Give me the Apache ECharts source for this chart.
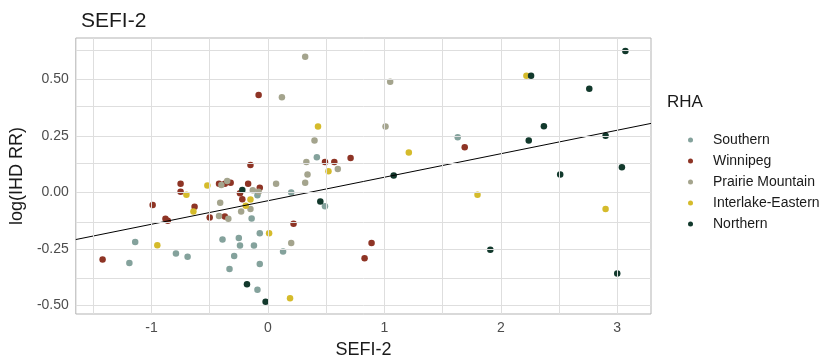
<!DOCTYPE html>
<html>
<head>
<meta charset="utf-8">
<script src="https://cdn.jsdelivr.net/npm/echarts@6/dist/echarts.min.js"></script>
<style>
  html, body { margin: 0; padding: 0; background: #fff; }
  #chart { width: 826px; height: 364px; }
</style>
</head>
<body>
<div id="chart"></div>
<script>
// RHA groups, [SEFI-2, log(IHD RR)] per region
const regions = ['Southern', 'Winnipeg', 'Prairie Mountain', 'Interlake-Eastern', 'Northern'];
const regionColors = ['#84a29c', '#8e3425', '#a4a48d', '#d5bb2b', '#12392c'];

const southern = [
  [0.42, 0.157], [0.20, 0.000], [0.49, -0.060], [-0.07, -0.180], [-0.12, -0.234],
  [0.13, -0.260], [-0.07, -0.316], [-0.09, -0.430], [-0.09, -0.012], [-0.14, -0.114],
  [-1.14, -0.218], [-1.19, -0.311], [-0.79, -0.269], [-0.69, -0.284], [-0.39, -0.207],
  [-0.29, -0.280], [-0.33, -0.338], [-0.25, -0.201], [-0.24, -0.234], [1.63, 0.245]
];
const winnipeg = [
  [-0.08, 0.432], [-0.15, 0.122], [0.71, 0.153], [0.49, 0.135], [0.57, 0.135],
  [-0.07, 0.022], [0.22, -0.138], [0.89, -0.223], [0.83, -0.290], [-0.75, 0.039],
  [-0.75, 0.004], [-0.42, 0.039], [-0.32, 0.044], [-0.37, 0.039], [-0.17, 0.039],
  [-0.24, -0.003], [-0.22, -0.029], [-0.63, -0.062], [-0.50, -0.110], [-0.37, -0.106],
  [-0.99, -0.055], [-0.88, -0.116], [-0.86, -0.124], [-1.42, -0.296], [1.69, 0.201]
];
const prairieMountain = [
  [0.32, 0.601], [0.12, 0.422], [1.05, 0.490], [1.01, 0.293], [0.40, 0.230],
  [0.33, 0.135], [0.34, 0.080], [0.60, 0.105], [0.32, 0.044], [0.07, 0.039],
  [0.20, -0.223], [-0.40, 0.034], [-0.35, 0.051], [-0.13, 0.010], [-0.08, 0.004],
  [-0.41, -0.045], [-0.23, -0.083], [-0.15, -0.073], [-0.42, -0.103], [-0.34, -0.116]
];
const interlakeEastern = [
  [0.43, 0.293], [1.21, 0.178], [0.52, 0.095], [0.01, -0.180], [0.19, -0.467],
  [-0.15, -0.030], [-0.70, -0.009], [-0.52, 0.032], [-0.19, -0.058], [-0.64, -0.083],
  [-0.95, -0.233], [2.22, 0.517], [1.80, -0.009], [2.90, -0.073]
];
const northern = [
  [1.08, 0.076], [0.45, -0.039], [-0.02, -0.483], [-0.18, -0.405], [-0.22, 0.012],
  [3.07, 0.626], [2.26, 0.517], [2.76, 0.459], [2.37, 0.294], [2.24, 0.230],
  [2.90, 0.252], [2.51, 0.080], [3.04, 0.112], [1.91, -0.253], [3.00, -0.358]
];
const regionData = [southern, winnipeg, prairieMountain, interlakeEastern, northern];

// linear fit drawn across the whole panel
const fitIntercept = -0.036;
const fitSlope = 0.104;

const xRange = [-1.65, 3.29];
const yRange = [-0.537, 0.684];
const xTicks = [-1, 0, 1, 2, 3];
const yTicks = [-0.5, -0.25, 0, 0.25, 0.5];
const xGridLines = [-1.5, -1, -0.5, 0, 0.5, 1, 1.5, 2, 2.5, 3];
const yGridLines = [-0.5, -0.375, -0.25, -0.125, 0, 0.125, 0.25, 0.375, 0.5, 0.625];

const font = "'Liberation Sans', Arial, sans-serif";

const chart = echarts.init(document.getElementById('chart'), null, { renderer: 'canvas' });

const scatterSeries = regions.map((name, i) => ({
  name,
  type: 'scatter',
  data: regionData[i],
  symbol: 'circle',
  symbolSize: 6.5,
  itemStyle: { color: regionColors[i], opacity: 1 },
  z: 3,
}));

chart.setOption({
  animation: false,
  backgroundColor: '#fff',
  textStyle: { fontFamily: font },
  title: [
    {
      text: 'SEFI-2',
      left: 76,
      top: 6,
      textStyle: { fontFamily: font, fontSize: 21, fontWeight: 'normal', color: '#1a1a1a' },
    },
    {
      text: 'RHA',
      left: 662,
      top: 89,
      textStyle: { fontFamily: font, fontSize: 17, fontWeight: 'normal', color: '#1a1a1a' },
    },
  ],
  legend: {
    data: regions,
    orient: 'vertical',
    left: 683,
    top: 128,
    icon: 'circle',
    itemWidth: 35,
    itemHeight: 5,
    itemGap: 7,
    textStyle: { fontFamily: font, fontSize: 14, color: '#1a1a1a' },
  },
  grid: {
    left: 74,
    right: 175,
    top: 38,
    bottom: 46,
    show: true,
    borderColor: '#b3b3b3',
    borderWidth: 1,
    backgroundColor: 'transparent',
  },
  xAxis: {
    type: 'value',
    min: xRange[0],
    max: xRange[1],
    name: 'SEFI-2',
    nameLocation: 'middle',
    nameGap: 27,
    nameTextStyle: { fontFamily: font, fontSize: 18, color: '#1a1a1a' },
    axisLine: { show: false },
    splitLine: { show: false },
    axisTick: {
      show: true,
      customValues: xTicks,
      length: 4,
      lineStyle: { color: '#b3b3b3' },
    },
    axisLabel: {
      customValues: xTicks,
      margin: 7,
      fontFamily: font,
      fontSize: 14,
      color: '#4d4d4d',
      formatter: (v) => (xTicks.includes(v) ? String(v) : ''),
    },
  },
  yAxis: {
    type: 'value',
    min: yRange[0],
    max: yRange[1],
    name: 'log(IHD RR)',
    nameLocation: 'middle',
    nameRotate: 90,
    nameGap: 42,
    nameTextStyle: { fontFamily: font, fontSize: 18, color: '#1a1a1a' },
    axisLine: { show: false },
    splitLine: { show: false },
    axisTick: {
      show: true,
      customValues: yTicks,
      length: 4,
      lineStyle: { color: '#b3b3b3' },
    },
    axisLabel: {
      customValues: yTicks,
      margin: 7,
      fontFamily: font,
      fontSize: 14,
      color: '#4d4d4d',
      formatter: (v) => (yTicks.includes(v) ? v.toFixed(2) : ''),
    },
  },
  series: [
    {
      name: 'grid',
      type: 'scatter',
      data: [],
      silent: true,
      z: 1,
      markLine: {
        silent: true,
        symbol: ['none', 'none'],
        label: { show: false },
        lineStyle: { type: 'solid', color: '#dedede', width: 1 },
        emphasis: { disabled: true },
        data: [
          ...xGridLines.map((v) => ({ xAxis: v })),
          ...yGridLines.map((v) => ({ yAxis: v })),
        ],
      },
    },
    ...scatterSeries,
    {
      name: 'fit',
      type: 'line',
      data: xRange.map((x) => [x, fitIntercept + fitSlope * x]),
      showSymbol: false,
      silent: true,
      lineStyle: { color: '#000', width: 1 },
      z: 4,
    },
  ],
});

window.addEventListener('resize', () => chart.resize());
</script>
</body>
</html>
